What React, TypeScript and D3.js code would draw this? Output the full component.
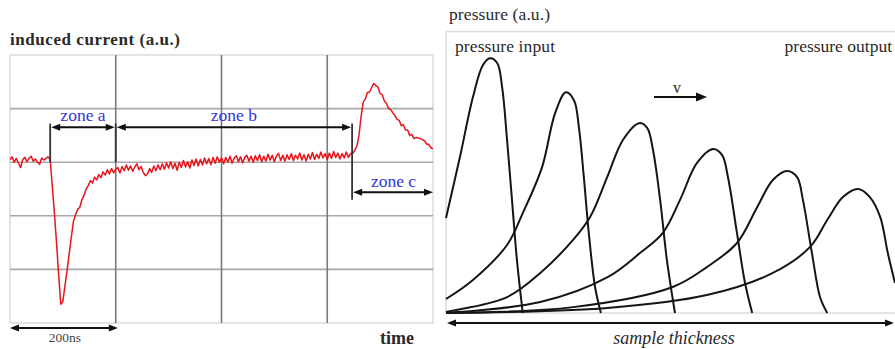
import React from "react";
import * as d3 from "d3";

// ---------- Left panel data ----------
const timeTicks = [0, 200, 400, 600, 800]; // ns
const currentTicks = [2, 1, 0, -1, -2, -3]; // divisions
const timeStep = 4; // ns between samples
const currentTrace = [
  0.05, 0.1, 0.0, 0.07, -0.02, -0.1, 0.05, 0.09, 0.01, 0.07, 0.11, 0.02, 0.06, 0.0, -0.04, 0.08, 0.04, 0.07, 0.1, 0.05,
  -0.45, -0.95, -1.5, -2.1, -2.65, -2.6, -2.3, -2.02, -1.7, -1.4, -1.1, -0.98, -0.88, -0.84, -0.7, -0.62, -0.5, -0.44, -0.34, -0.39,
  -0.28, -0.33, -0.23, -0.29, -0.18, -0.24, -0.14, -0.22, -0.12, -0.2, -0.13,
  -0.1, -0.2, -0.08, -0.16, -0.05, -0.15, -0.07, -0.17, -0.09, -0.03, -0.14, -0.08, -0.19, -0.25, -0.22, -0.12, -0.19, -0.07, -0.16, -0.05,
  -0.14, -0.03, -0.13, -0.01, -0.11, 0.01, -0.12, -0.02, -0.15, 0.0, -0.1, 0.03, -0.09, 0.01, -0.11, 0.04, -0.06, 0.06, -0.07, 0.05,
  -0.05, 0.08, -0.03, 0.07, -0.05, 0.09, -0.02, 0.1, 0.0, 0.08, -0.03, 0.09, 0.0, 0.11, -0.02, 0.08, 0.12, 0.01, 0.1, -0.01,
  0.09, 0.13, 0.02, 0.11, 0.0, 0.12, 0.03, 0.14, 0.01, 0.11, 0.02, 0.15, 0.04, 0.13, 0.01, 0.12, 0.16, 0.03, 0.13, 0.02,
  0.14, 0.05, 0.16, 0.03, 0.13, 0.06, 0.17, 0.04, 0.14, 0.02, 0.15, 0.06, 0.18, 0.05, 0.15, 0.07, 0.19, 0.08, 0.16, 0.05,
  0.17, 0.07, 0.2, 0.09, 0.17, 0.06, 0.16, 0.08, 0.19, 0.09, 0.16,
  0.16, 0.22, 0.3, 0.5, 0.85, 1.12, 1.18, 1.3, 1.31, 1.39, 1.47, 1.43, 1.4, 1.28, 1.26, 1.14, 1.1, 1.0, 0.98, 0.92,
  0.87, 0.8, 0.78, 0.68, 0.7, 0.6, 0.6, 0.5, 0.52, 0.44, 0.46, 0.45, 0.44, 0.42, 0.4, 0.34, 0.33, 0.27, 0.25,
];
const zoneNames = ["zone a", "zone b", "zone c"];
const zoneStart = [76, 200, 647]; // ns
const zoneEnd = [200, 647, 800]; // ns
const scaleBarNs = [0, 204];
const scaleBarLabel = "200ns";

// ---------- Right panel data ----------
const pulses: [number, number][][] = [
  [[0, 33.9], [3.1, 55.7], [6.0, 77.1], [8.2, 88.5], [9.8, 91.0], [11.4, 89.3], [12.5, 80.7], [13.6, 61.8], [14.7, 40.3], [15.8, 18.9], [17.1, 0]],
  [[0, 5.0], [6.0, 11.8], [13.6, 24.3], [17.1, 35.7], [21.4, 52.1], [24.3, 71.4], [26.7, 78.8], [28.5, 76.0], [29.6, 66.3], [30.7, 48.5], [31.8, 28.6], [33.2, 9.3], [34.5, 0]],
  [[0, 0.4], [13.6, 5.7], [21.0, 14.3], [28.3, 26.1], [32.1, 34.3], [35.9, 48.5], [39.4, 61.8], [43.0, 67.8], [44.8, 66.1], [46.1, 58.2], [47.7, 40.3], [49.2, 18.9], [51.0, 0]],
  [[0, 0], [21.0, 3.9], [36.0, 12.8], [43.2, 21.4], [48.3, 28.6], [52.1, 40.3], [55.9, 53.6], [59.5, 58.6], [61.5, 56.4], [62.8, 48.5], [64.8, 28.6], [66.6, 10.7], [68.2, 0]],
  [[0, 0], [28.3, 2.1], [50.5, 9.3], [58.1, 16.4], [64.8, 25.0], [69.3, 37.8], [72.8, 47.5], [76.0, 50.7], [78.2, 48.5], [79.5, 40.3], [81.5, 21.4], [83.3, 5.7], [84.9, 0]],
  [[0, 0], [35.9, 1.8], [58.1, 6.4], [72.8, 14.3], [81.1, 23.6], [84.9, 33.2], [88.4, 41.4], [91.8, 44.3], [94.4, 41.4], [96.7, 34.3], [98.4, 21.4], [100, 10.7]],
];

const SERIF = "'Liberation Serif', 'Times New Roman', serif";
const TEXT = "#2a2a2a";
const BLUE = "#3434d8";

function arrowHead(x: number, y: number, dir: number, len = 9, half = 3.5) {
  return `M${x},${y} L${x - dir * len},${y - half} L${x - dir * len},${y + half} Z`;
}

function DoubleArrow({ x1, x2, y, w = 2 }: { x1: number; x2: number; y: number; w?: number }) {
  return (
    <g>
      <line x1={x1 + 6} x2={x2 - 6} y1={y} y2={y} stroke="#111" strokeWidth={w} />
      <path d={arrowHead(x1, y, -1)} fill="#111" />
      <path d={arrowHead(x2, y, 1)} fill="#111" />
    </g>
  );
}

const ts = (extra: React.CSSProperties = {}): React.CSSProperties => ({ fontFamily: SERIF, ...extra });

export default function App() {
  // Left panel scales
  const x = d3.scaleLinear().domain([0, 800]).range([10, 433]);
  const y = d3.scaleLinear().domain([2, -3]).range([55, 323]);
  const line = d3
    .line<number>()
    .x((_, i) => x(i * timeStep))
    .y((d) => y(d));

  // Right panel scales
  const sx = d3.scaleLinear().domain([0, 100]).range([446, 895]);
  const sy = d3.scaleLinear().domain([0, 100]).range([313, 33]);
  const pulseLine = d3
    .line<[number, number]>()
    .x((d) => sx(d[0]))
    .y((d) => sy(d[1]))
    .curve(d3.curveCatmullRom.alpha(0.5));

  const arrowY = y(0.65);
  const zoneCY = y(-0.56);

  return (
    <svg
      width={895}
      height={349}
      style={{ position: "fixed", left: 0, top: 0, background: "#fff", fontFamily: SERIF }}
    >
      <rect x={0} y={0} width={895} height={349} fill="#fff" />
      {/* ---------------- Left panel ---------------- */}
      <text x={10} y={45} fontSize={17} fill={TEXT} fontWeight="bold" textLength={170} style={ts()}>
        induced current (a.u.)
      </text>
      <rect x={x(0)} y={y(2)} width={x(800) - x(0)} height={y(-3) - y(2)} fill="none" stroke="#dcdcdc" strokeWidth={1.5} />
      {currentTicks.slice(1, -1).map((v) => (
        <line key={"h" + v} x1={x(0)} x2={x(800)} y1={y(v)} y2={y(v)} stroke="#a8a8a8" strokeWidth={1.6} />
      ))}
      {timeTicks.slice(1, -1).map((t) => (
        <line key={"v" + t} x1={x(t)} x2={x(t)} y1={y(2)} y2={y(-3)} stroke="#7a7a7a" strokeWidth={1.6} />
      ))}
      <path d={line(currentTrace) || ""} fill="none" stroke="#e8151b" strokeWidth={1.5} strokeLinejoin="round" />

      {/* zone markers */}
      <line x1={x(zoneStart[0])} x2={x(zoneStart[0])} y1={y(0.72)} y2={y(0)} stroke="#333" strokeWidth={1.8} />
      <line x1={x(zoneStart[1])} x2={x(zoneStart[1])} y1={y(0.72)} y2={y(0)} stroke="#333" strokeWidth={1.8} />
      <line x1={x(zoneStart[2])} x2={x(zoneStart[2])} y1={y(0.72)} y2={y(-0.7)} stroke="#333" strokeWidth={1.8} />
      <DoubleArrow x1={x(zoneStart[0]) + 1} x2={x(zoneEnd[0]) - 1} y={arrowY} />
      <DoubleArrow x1={x(zoneStart[1]) + 1} x2={x(zoneEnd[1]) - 1} y={arrowY} />
      <DoubleArrow x1={x(zoneStart[2]) + 1} x2={x(zoneEnd[2])} y={zoneCY} />
      {zoneNames.map((n, i) => (
        <text
          key={n}
          x={i === 2 ? x((zoneStart[i] + zoneEnd[i]) / 2) + 1 : x((zoneStart[i] + zoneEnd[i]) / 2)}
          y={i === 2 ? y(-0.47) : y(0.77)}
          fontSize={17.5}
          fill={BLUE}
          textAnchor="middle"
          style={ts()}
        >
          {n}
        </text>
      ))}
      <DoubleArrow x1={x(scaleBarNs[0])} x2={x(scaleBarNs[1])} y={328} />
      <text x={x(100) + 2} y={342} fontSize={13.5} fill="#444" textAnchor="middle" style={ts()}>
        {scaleBarLabel}
      </text>
      <text x={380} y={344} fontSize={18} fontWeight="bold" fill={TEXT} style={ts()}>
        time
      </text>

      {/* ---------------- Right panel ---------------- */}
      <text x={449} y={20} fontSize={17.5} fill={TEXT} textLength={101} style={ts()}>
        pressure (a.u.)
      </text>
      <rect x={sx(0)} y={sy(100.5)} width={sx(100) - sx(0) + 4} height={sy(0) - sy(100.5)} fill="none" stroke="#dcdcdc" strokeWidth={1.5} />
      <text x={455} y={52} fontSize={17.5} fill={TEXT} textLength={100} style={ts()}>
        pressure input
      </text>
      <text x={892} y={52} fontSize={17.5} fill={TEXT} textAnchor="end" style={ts()}>
        pressure output
      </text>
      {pulses.map((p, i) => (
        <path key={i} d={pulseLine(p) || ""} fill="none" stroke="#151515" strokeWidth={2} />
      ))}
      {/* velocity arrow */}
      <line x1={654} x2={698} y1={97} y2={97} stroke="#111" strokeWidth={2.2} />
      <path d={arrowHead(707, 97, 1, 11, 4.5)} fill="#111" />
      <text x={677} y={93} fontSize={16} fill={TEXT} textAnchor="middle" style={ts()}>
        v
      </text>
      <DoubleArrow x1={sx(0) + 1} x2={894} y={323} w={2} />
      <text x={674} y={344} fontSize={18} fontStyle="italic" fill={TEXT} textAnchor="middle" style={ts()}>
        sample thickness
      </text>
    </svg>
  );
}
